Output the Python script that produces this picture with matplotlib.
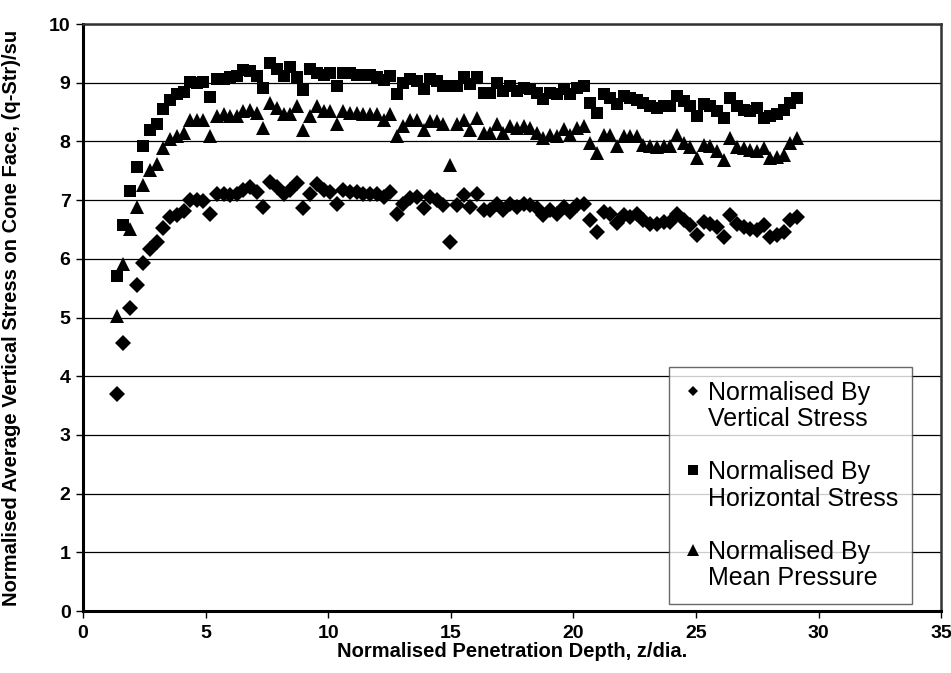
import numpy as np
import matplotlib
matplotlib.use('Agg')
import matplotlib.pyplot as plt
from matplotlib.lines import Line2D

plt.rcParams['font.family'] = ['Liberation Sans', 'DejaVu Sans']
plt.rcParams['font.weight'] = 'bold'  # Excel style: bold axis text

# penetration depth z/dia (same sampling for all three series)
depth = [1.38, 1.65, 1.92, 2.19, 2.46, 2.74, 3.01, 3.28, 3.55, 3.82,
         4.10, 4.37, 4.64, 4.91, 5.18, 5.46, 5.73, 6.00, 6.27, 6.54,
         6.82, 7.09, 7.36, 7.63, 7.90, 8.18, 8.45, 8.72, 8.99, 9.26,
         9.54, 9.81, 10.08, 10.35, 10.62, 10.90, 11.17, 11.44, 11.71, 11.98,
         12.26, 12.53, 12.80, 13.07, 13.34, 13.62, 13.89, 14.16, 14.43, 14.70,
         14.98, 15.25, 15.52, 15.79, 16.06, 16.34, 16.61, 16.88, 17.15, 17.42,
         17.70, 17.97, 18.24, 18.51, 18.78, 19.06, 19.33, 19.60, 19.87, 20.14,
         20.42, 20.69, 20.96, 21.23, 21.50, 21.78, 22.05, 22.32, 22.59, 22.86,
         23.14, 23.41, 23.68, 23.95, 24.22, 24.50, 24.77, 25.04, 25.31, 25.58,
         25.86, 26.13, 26.40, 26.67, 26.94, 27.22, 27.49, 27.76, 28.03, 28.30,
         28.58, 28.85, 29.12]

# normalised by vertical stress
by_vertical = [3.69, 4.57, 5.17, 5.55, 5.93, 6.17, 6.29, 6.53, 6.71, 6.74,
               6.81, 7.01, 7.01, 6.98, 6.76, 7.10, 7.11, 7.09, 7.10, 7.17,
               7.23, 7.14, 6.89, 7.31, 7.23, 7.11, 7.17, 7.29, 6.86, 7.10,
               7.27, 7.17, 7.14, 6.94, 7.17, 7.14, 7.14, 7.11, 7.11, 7.10,
               7.06, 7.14, 6.77, 6.94, 7.03, 7.06, 6.86, 7.06, 7.00, 6.91,
               6.29, 6.91, 7.09, 6.89, 7.10, 6.83, 6.83, 6.94, 6.83, 6.94,
               6.89, 6.94, 6.91, 6.86, 6.74, 6.83, 6.77, 6.89, 6.80, 6.91,
               6.94, 6.66, 6.46, 6.80, 6.77, 6.61, 6.74, 6.71, 6.77, 6.66,
               6.60, 6.60, 6.63, 6.63, 6.77, 6.66, 6.57, 6.40, 6.63, 6.60,
               6.54, 6.37, 6.74, 6.60, 6.54, 6.51, 6.49, 6.57, 6.37, 6.40,
               6.46, 6.66, 6.71]

# normalised by horizontal stress
by_horizontal = [5.70, 6.58, 7.16, 7.56, 7.93, 8.19, 8.29, 8.55, 8.71, 8.80,
                 8.84, 9.01, 9.00, 9.01, 8.76, 9.06, 9.07, 9.10, 9.11, 9.22,
                 9.20, 9.11, 8.91, 9.33, 9.23, 9.11, 9.27, 9.10, 8.87, 9.24,
                 9.17, 9.14, 9.17, 8.94, 9.17, 9.17, 9.14, 9.13, 9.13, 9.09,
                 9.05, 9.11, 8.80, 9.00, 9.06, 9.03, 8.89, 9.06, 9.03, 8.94,
                 8.94, 8.94, 9.09, 8.97, 9.10, 8.83, 8.83, 9.00, 8.86, 8.94,
                 8.86, 8.91, 8.89, 8.83, 8.73, 8.83, 8.80, 8.89, 8.80, 8.91,
                 8.94, 8.66, 8.49, 8.80, 8.74, 8.63, 8.77, 8.74, 8.71, 8.66,
                 8.60, 8.57, 8.60, 8.60, 8.78, 8.69, 8.60, 8.43, 8.63, 8.60,
                 8.51, 8.40, 8.74, 8.60, 8.54, 8.51, 8.57, 8.40, 8.43, 8.46,
                 8.54, 8.66, 8.74]

# normalised by mean pressure
by_mean = [5.03, 5.91, 6.51, 6.89, 7.26, 7.51, 7.62, 7.89, 8.04, 8.09,
           8.14, 8.37, 8.37, 8.37, 8.09, 8.43, 8.46, 8.43, 8.43, 8.51,
           8.54, 8.49, 8.23, 8.66, 8.57, 8.46, 8.46, 8.60, 8.20, 8.43,
           8.60, 8.51, 8.51, 8.29, 8.51, 8.49, 8.49, 8.46, 8.46, 8.46,
           8.37, 8.46, 8.09, 8.26, 8.37, 8.37, 8.20, 8.34, 8.34, 8.29,
           7.60, 8.29, 8.37, 8.20, 8.40, 8.14, 8.14, 8.29, 8.14, 8.26,
           8.23, 8.26, 8.23, 8.14, 8.06, 8.11, 8.09, 8.21, 8.11, 8.23,
           8.26, 7.97, 7.80, 8.11, 8.11, 7.93, 8.09, 8.09, 8.10, 7.94,
           7.93, 7.91, 7.93, 7.93, 8.11, 7.98, 7.91, 7.71, 7.94, 7.93,
           7.83, 7.69, 8.06, 7.91, 7.89, 7.86, 7.83, 7.89, 7.71, 7.74,
           7.77, 7.97, 8.06]

x_ticks = [0, 5, 10, 15, 20, 25, 30, 35]
y_ticks = [0, 1, 2, 3, 4, 5, 6, 7, 8, 9, 10]

legend_lines = [("Normalised By", "Vertical Stress"),
                ("Normalised By", "Horizontal Stress"),
                ("Normalised By", "Mean Pressure")]

fig = plt.figure(figsize=(9.51, 6.73), dpi=100)
ax = fig.add_axes([0.0873, 0.0921, 0.9023, 0.8722])

ax.plot(depth, by_vertical, ls='none', marker='D', ms=8.3, color='black', mew=0, zorder=3)
ax.plot(depth, by_horizontal, ls='none', marker='s', ms=9.2, color='black', mew=0, zorder=3)
ax.plot(depth, by_mean, ls='none', marker='^', ms=9.4, color='black', mew=0, zorder=3)

ax.set_xlim(0, 35)
ax.set_ylim(0, 10)
ax.set_xticks(x_ticks)
ax.set_yticks(y_ticks)
ax.yaxis.grid(True, color='black', lw=0.9)
ax.set_axisbelow(True)

for side in ['top', 'right']:
    ax.spines[side].set_color('#333333')
    ax.spines[side].set_linewidth(1.8)
for side in ['left', 'bottom']:
    ax.spines[side].set_color('black')
    ax.spines[side].set_linewidth(2.2)

ax.tick_params(direction='out', length=5, width=1, labelsize=14)
ax.tick_params(axis='x', pad=5)
ax.tick_params(axis='y', pad=4)

ax.set_xlabel("Normalised Penetration Depth, z/dia.", fontsize=14.5, fontweight='bold')
ax.set_ylabel("Normalised Average Vertical Stress on Cone Face, (q-Str)/su",
              fontsize=14.5, fontweight='bold')
ax.xaxis.set_label_coords(0.5, -0.053)
ax.yaxis.set_label_coords(-0.072, 0.5)

# legend: marker on first line of each two-line entry
markers = [('D', 4.6), ('s', 7.2), ('^', 8.6)]
handles = []
labels = []
blank = Line2D([], [], ls='none', marker='')
for k, ((m, s), (l1, l2)) in enumerate(zip(markers, legend_lines)):
    handles.append(Line2D([], [], ls='none', marker=m, ms=s, color='black', mew=0))
    labels.append(l1)
    handles.append(blank)
    labels.append(l2)
    if k < 2:
        handles.append(blank)
        labels.append(" ")

leg = ax.legend(handles, labels, loc='lower right', bbox_to_anchor=(0.966, 0.012),
                prop={'size': 18, 'weight': 'normal'}, frameon=True, fancybox=False,
                shadow=False, borderpad=0.55, labelspacing=0.1, handlelength=0.8,
                handletextpad=0.2, borderaxespad=0)
leg.get_frame().set_edgecolor('#444444')
leg.get_frame().set_linewidth(1.0)

fig.savefig('out.png', dpi=100)
